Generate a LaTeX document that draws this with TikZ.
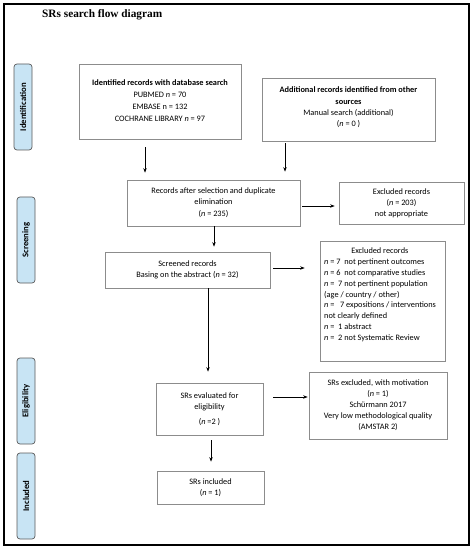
\documentclass[tikz,border=0pt]{standalone}
\usepackage{fontspec}
\setmainfont{Carlito}
\newfontfamily\titlefont{Liberation Serif}
\usetikzlibrary{arrows.meta}
\definecolor{boxgray}{HTML}{8C8C8C}
\definecolor{labelfill}{HTML}{C8E4F4}
\definecolor{labeldraw}{HTML}{5A5A5A}
\begin{document}
\begin{tikzpicture}[x=1bp,y=-1bp,
  box/.style={draw=boxgray, line width=0.7bp, inner sep=0pt, align=center,
    font=\fontsize{8.3bp}{11bp}\selectfont},
  phase/.style={draw=labeldraw, fill=labelfill, line width=0.7bp, rounded corners=3bp,
    minimum width=18bp, minimum height=86bp, inner sep=0pt},
  phasetext/.style={rotate=90, font=\bfseries\fontsize{8.7bp}{10bp}\selectfont},
  arr/.style={line width=0.7bp, -{Stealth[length=4.5bp,width=3.5bp]}}]
\useasboundingbox (0,0) rectangle (474,550);
\node[draw=black, line width=1.6bp, minimum width=465bp, minimum height=541bp, inner sep=0pt] (frame) at (236.5,274.5) {};
\node[anchor=west, font=\titlefont\bfseries\fontsize{11.3bp}{12bp}\selectfont, inner sep=0pt] (title) at (42,15) {SRs search flow diagram};

% phase labels
\node[phase] (pid) at (23,107) {};
\node[phasetext] at (pid.center) {Identification};
\node[phase] (psc) at (26,240) {};
\node[phasetext] at (psc.center) {Screening};
\node[phase] (pel) at (26,401) {};
\node[phasetext] at (pel.center) {Eligibility};
\node[phase] (pin) at (26,496) {};
\node[phasetext] at (pin.center) {Included};

% boxes
\node[box, minimum width=162bp, minimum height=75bp] (b1) at (160,101.5) {};
\node[align=center, inner sep=0pt, font=\fontsize{8.3bp}{11.8bp}\selectfont] (t1) at (160,100.5)
  {\textbf{Identified records with database search}\\PUBMED \textit{n} = 70\\EMBASE n = 132\\COCHRANE LIBRARY \textit{n} = 97};

\node[box, minimum width=173bp, minimum height=63bp] (b2) at (348.5,109.5) {};
\node[align=center, inner sep=0pt, font=\fontsize{8.3bp}{11.3bp}\selectfont] (t2) at (348.5,107.5)
  {\textbf{Additional records identified from other}\\\textbf{sources}\\Manual search (additional)\\(\textit{n} = 0 )};

\node[box, minimum width=173bp, minimum height=46bp] (b3) at (213.5,203)
  {Records after selection and duplicate\\elimination\\[1bp](\textit{n} = 235)};

\node[box, minimum width=125bp, minimum height=42bp] (b4) at (401.5,203)
  {Excluded records\\(\textit{n} = 203)\\not appropriate};

\node[box, minimum width=165bp, minimum height=36bp] (b5) at (187.5,270)
  {Screened records\\Basing on the abstract (\textit{n} = 32)};

\node[box, minimum width=125bp, minimum height=120bp] (b6) at (382.5,301) {};
\node[anchor=north west, align=left, inner sep=0pt, font=\fontsize{8.3bp}{10.8bp}\selectfont] (t6) at (324,248)
  {\hphantom{n = 7 no}Excluded records\\
   \textit{n} = 7\ \ not pertinent outcomes\\
   \textit{n} = 6\ \ not comparative studies\\
   \textit{n} =\ \ 7 not pertinent population\\
   (age / country / other)\\
   \textit{n} =\ \ \ 7 expositions / interventions\\
   not clearly defined\\
   \textit{n} =\ \ 1 abstract\\
   \textit{n} =\ \ 2 not Systematic Review};

\node[box, minimum width=107bp, minimum height=52bp] (b7) at (209.5,409)
  {SRs evaluated for\\eligibility\\[4bp](\textit{n} =2 )};

\node[box, minimum width=138bp, minimum height=67bp] (b8) at (378,405.5)
  {SRs excluded, with motivation\\(\textit{n} = 1)\\Schürmann 2017\\Very low methodological quality\\(AMSTAR 2)};

\node[box, minimum width=107bp, minimum height=33bp] (b9) at (210.5,487.5)
  {SRs included\\(\textit{n} = 1)};

% arrow x positions
\coordinate (x1) at (145,0);
\coordinate (x2) at (285,0);
\coordinate (x3) at (214,0);
\coordinate (x4) at (208,0);
\coordinate (x5) at (211,0);
\coordinate (y1) at (0,206);
\coordinate (y2) at (0,268);
\coordinate (y3) at (0,397);

\draw[arr, shorten <=8bp, shorten >=7bp] (b1.south -| x1) -- (b3.north -| x1);
\draw[arr, shorten <=2bp, shorten >=8bp] (b2.south -| x2) -- (b3.north -| x2);
\draw[arr, shorten <=2bp, shorten >=4bp] (b3.east |- y1) -- (b4.west |- y1);
\draw[arr, shorten >=5bp] (b3.south -| x3) -- (b5.north -| x3);
\draw[arr, shorten <=3bp, shorten >=15bp] (b5.east |- y2) -- (b6.west |- y2);
\draw[arr, shorten >=11bp] (b5.south -| x4) -- (b7.north -| x4);
\draw[arr, shorten <=10bp, shorten >=1bp] (b7.east |- y3) -- (b8.west |- y3);
\draw[arr, shorten <=5bp, shorten >=9bp] (b7.south -| x5) -- (b9.north -| x5);
\end{tikzpicture}
\end{document}
